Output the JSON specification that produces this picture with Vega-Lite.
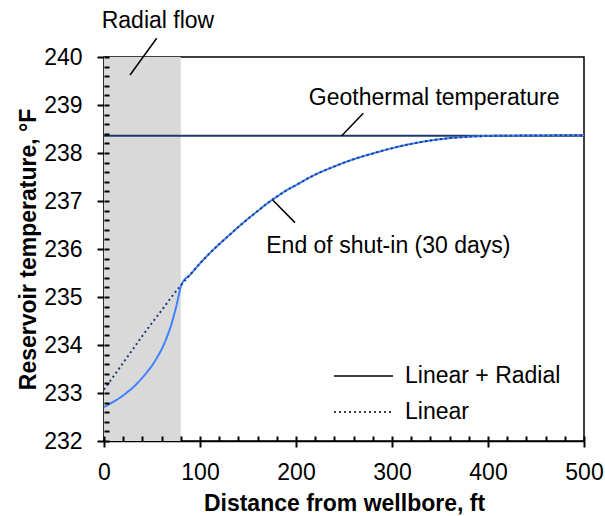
{
  "$schema": "https://vega.github.io/schema/vega-lite/v6.json",
  "width": 480,
  "height": 384,
  "autosize": {"type": "none"},
  "padding": {"left": 104, "top": 57, "right": 21, "bottom": 75},
  "background": "white",
  "config": {
    "font": "Liberation Sans",
    "view": {"stroke": "black", "strokeWidth": 1.5},
    "axis": {
      "labelFont": "Liberation Sans",
      "labelFontSize": 23,
      "labelColor": "black",
      "titleFont": "Liberation Sans",
      "titleFontSize": 23,
      "titleFontWeight": "bold",
      "titleColor": "black",
      "domainColor": "black",
      "domainWidth": 1.5,
      "grid": false
    },
    "text": {"font": "Liberation Sans", "fontSize": 23, "color": "black"}
  },
  "datasets": {
    "band": [{"start": 0, "end": 80}],
    "geothermal": [{"T": 238.36}],
    "radial_linear": [
      {"d": 0, "T": 232.71}, {"d": 5, "T": 232.76}, {"d": 10, "T": 232.82},
      {"d": 15, "T": 232.88}, {"d": 20, "T": 232.95}, {"d": 25, "T": 233.03},
      {"d": 30, "T": 233.11}, {"d": 35, "T": 233.21}, {"d": 40, "T": 233.32},
      {"d": 45, "T": 233.44}, {"d": 50, "T": 233.57}, {"d": 55, "T": 233.73},
      {"d": 60, "T": 233.91}, {"d": 65, "T": 234.14}, {"d": 70, "T": 234.42},
      {"d": 75, "T": 234.78}, {"d": 81, "T": 235.27}, {"d": 90, "T": 235.47},
      {"d": 100, "T": 235.7}, {"d": 110, "T": 235.91}, {"d": 120, "T": 236.1},
      {"d": 130, "T": 236.28}, {"d": 140, "T": 236.46}, {"d": 150, "T": 236.63},
      {"d": 160, "T": 236.79}, {"d": 170, "T": 236.95}, {"d": 180, "T": 237.09},
      {"d": 190, "T": 237.22}, {"d": 200, "T": 237.33}, {"d": 220, "T": 237.55},
      {"d": 240, "T": 237.72}, {"d": 260, "T": 237.87}, {"d": 280, "T": 237.99},
      {"d": 300, "T": 238.1}, {"d": 320, "T": 238.19}, {"d": 340, "T": 238.26},
      {"d": 360, "T": 238.31}, {"d": 380, "T": 238.34}, {"d": 400, "T": 238.355},
      {"d": 420, "T": 238.36}, {"d": 450, "T": 238.365}, {"d": 500, "T": 238.37}
    ],
    "linear": [
      {"d": 0, "T": 233.07}, {"d": 10, "T": 233.35}, {"d": 20, "T": 233.63},
      {"d": 30, "T": 233.91}, {"d": 40, "T": 234.19}, {"d": 50, "T": 234.46},
      {"d": 60, "T": 234.72}, {"d": 70, "T": 234.99}, {"d": 80, "T": 235.24},
      {"d": 90, "T": 235.47}, {"d": 100, "T": 235.7}, {"d": 110, "T": 235.91},
      {"d": 120, "T": 236.1}, {"d": 130, "T": 236.28}, {"d": 140, "T": 236.46},
      {"d": 150, "T": 236.63}, {"d": 160, "T": 236.79}, {"d": 170, "T": 236.95},
      {"d": 180, "T": 237.09}, {"d": 190, "T": 237.22}, {"d": 200, "T": 237.33},
      {"d": 220, "T": 237.55}, {"d": 240, "T": 237.72}, {"d": 260, "T": 237.87},
      {"d": 280, "T": 237.99}, {"d": 300, "T": 238.1}, {"d": 320, "T": 238.19},
      {"d": 340, "T": 238.26}, {"d": 360, "T": 238.31}, {"d": 380, "T": 238.34},
      {"d": 400, "T": 238.355}, {"d": 420, "T": 238.36}, {"d": 450, "T": 238.365},
      {"d": 500, "T": 238.37}
    ],
    "leaders": [
      {"d1": 27.1, "T1": 239.625, "d2": 54.9, "T2": 240.39},
      {"d1": 247.6, "T1": 238.36, "d2": 270.1, "T2": 238.83},
      {"d1": 175.7, "T1": 237.02, "d2": 199, "T2": 236.55}
    ],
    "notes": [
      {"d": 56.2, "T": 240.6, "label": "Radial flow"},
      {"d": 343.9, "T": 238.99, "label": "Geothermal temperature"},
      {"d": 296.2, "T": 235.92, "label": "End of shut-in (30 days)"}
    ]
  },
  "layer": [
    {
      "data": {"name": "band"},
      "mark": {"type": "rect", "color": "#d9d9d9"},
      "encoding": {
        "x": {"field": "start", "type": "quantitative", "scale": {"domain": [0, 500], "nice": false, "zero": false}, "axis": null},
        "x2": {"field": "end"}
      }
    },
    {
      "data": {"name": "geothermal"},
      "mark": {"type": "rule", "color": "#1f3864", "strokeWidth": 2},
      "encoding": {
        "y": {"field": "T", "type": "quantitative", "scale": {"domain": [232, 240], "nice": false, "zero": false}, "axis": null}
      }
    },
    {
      "data": {"name": "radial_linear"},
      "transform": [{"calculate": "'Linear + Radial'", "as": "series"}],
      "mark": {"type": "line", "color": "#3c82ff", "strokeWidth": 2, "interpolate": "monotone"},
      "encoding": {
        "x": {
          "field": "d", "type": "quantitative",
          "scale": {"domain": [0, 500], "nice": false, "zero": false},
          "axis": {
            "orient": "bottom", "values": [0, 100, 200, 300, 400, 500],
            "ticks": true, "tickSize": 6, "tickColor": "#000000", "tickWidth": 2,
            "labelPadding": 14, "labelFlush": false, "labelOverlap": false,
            "title": "Distance from wellbore, ft", "titlePadding": 8
          }
        },
        "y": {
          "field": "T", "type": "quantitative",
          "scale": {"domain": [232, 240], "nice": false, "zero": false},
          "axis": {
            "orient": "left", "values": [232, 233, 234, 235, 236, 237, 238, 239, 240],
            "ticks": true, "tickSize": 7, "tickColor": "#000000", "tickWidth": 2,
            "labelPadding": 15, "labelFlush": false, "labelOverlap": false,
            "title": "Reservoir temperature, °F", "titlePadding": 3
          }
        },
        "strokeDash": {
          "field": "series", "type": "nominal",
          "scale": {"domain": ["Linear + Radial", "Linear"], "range": [[1, 0], [2, 3]]},
          "legend": {
            "orient": "none", "legendX": 229, "legendY": 304, "title": null,
            "labelFont": "Liberation Sans", "labelFontSize": 23, "labelColor": "black",
            "symbolType": "stroke", "symbolSize": 3481, "symbolStrokeWidth": 1.5,
            "symbolStrokeColor": "black",
            "clipHeight": 30, "rowPadding": 6, "labelOffset": 11, "padding": 0,
            "encode": {
              "symbols": {
                "enter": {"stroke": {"value": "black"}},
                "update": {"stroke": {"value": "black"}}
              }
            }
          }
        }
      }
    },
    {
      "data": {"name": "linear"},
      "transform": [{"calculate": "'Linear'", "as": "series"}],
      "mark": {"type": "line", "color": "#1f3a7a", "strokeWidth": 2, "interpolate": "monotone"},
      "encoding": {
        "x": {"field": "d", "type": "quantitative", "scale": {"domain": [0, 500], "nice": false, "zero": false}, "axis": null},
        "y": {"field": "T", "type": "quantitative", "scale": {"domain": [232, 240], "nice": false, "zero": false}, "axis": null},
        "strokeDash": {
          "field": "series", "type": "nominal",
          "scale": {"domain": ["Linear + Radial", "Linear"], "range": [[1, 0], [2, 3]]}
        }
      }
    },
    {
      "data": {"name": "leaders"},
      "mark": {"type": "rule", "color": "black", "strokeWidth": 1.5},
      "encoding": {
        "x": {"field": "d1", "type": "quantitative", "scale": {"domain": [0, 500], "nice": false, "zero": false}, "axis": null},
        "y": {"field": "T1", "type": "quantitative", "scale": {"domain": [232, 240], "nice": false, "zero": false}, "axis": null},
        "x2": {"field": "d2"},
        "y2": {"field": "T2"}
      }
    },
    {
      "data": {"name": "notes"},
      "mark": {"type": "text", "align": "center", "baseline": "alphabetic"},
      "encoding": {
        "x": {
          "field": "d", "type": "quantitative",
          "scale": {"domain": [0, 500], "nice": false, "zero": false},
          "axis": {
            "orient": "bottom", "offset": 0,
            "values": [0, 20, 40, 60, 80, 100, 120, 140, 160, 180, 200, 220, 240, 260, 280, 300, 320, 340, 360, 380, 400, 420, 440, 460, 480, 500],
            "ticks": true, "tickSize": -5, "tickColor": "#000000", "tickWidth": 2,
            "labels": false, "domain": false, "title": null, "zindex": 1
          }
        },
        "y": {
          "field": "T", "type": "quantitative",
          "scale": {"domain": [232, 240], "nice": false, "zero": false},
          "axis": {
            "orient": "left", "offset": 0,
            "values": [232, 232.2, 232.4, 232.6, 232.8, 233, 233.2, 233.4, 233.6, 233.8, 234, 234.2, 234.4, 234.6, 234.8, 235, 235.2, 235.4, 235.6, 235.8, 236, 236.2, 236.4, 236.6, 236.8, 237, 237.2, 237.4, 237.6, 237.8, 238, 238.2, 238.4, 238.6, 238.8, 239, 239.2, 239.4, 239.6, 239.8, 240],
            "ticks": true, "tickSize": -5, "tickColor": "#000000", "tickWidth": 2,
            "labels": false, "domain": false, "title": null, "zindex": 1
          }
        },
        "text": {"field": "label"}
      }
    }
  ],
  "resolve": {"axis": {"x": "independent", "y": "independent"}}
}
